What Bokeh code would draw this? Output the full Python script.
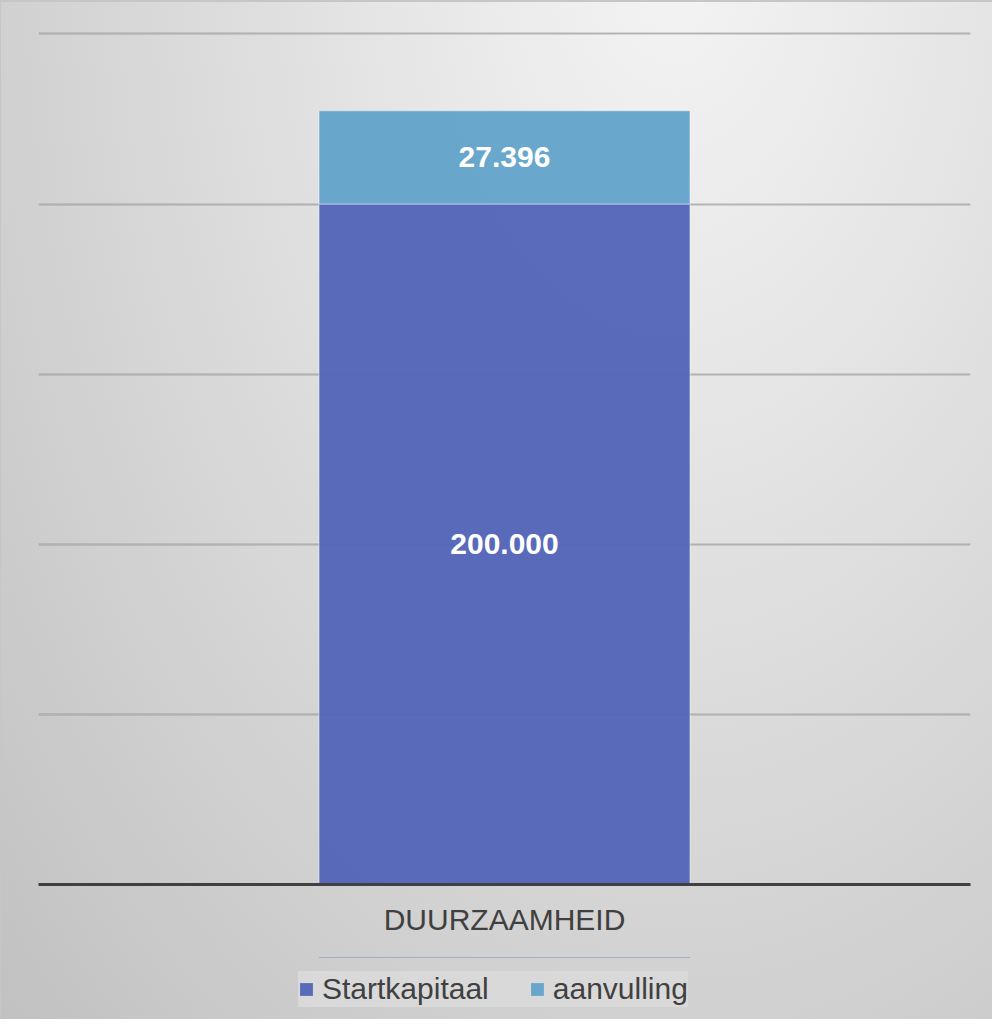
from bokeh.plotting import figure
from bokeh.layouts import column
from bokeh.models import (FactorRange, Range1d, Legend, LegendItem, ColumnDataSource,
                          Grid, FixedTicker)
from bokeh.core.properties import value
from bokeh.embed import file_html
from bokeh.resources import INLINE

# ---- data ----
categories = ["DUURZAAMHEID"]
series = ["Startkapitaal", "aanvulling"]
startkapitaal = [200000]
aanvulling = [27396]
y_ticks = [0, 50000, 100000, 150000, 200000, 250000]
colors = ["#5365B9", "#64A3CA"]
FONT = "Liberation Sans"


def nl(v):
    return f"{v:,}".replace(",", ".")


src = ColumnDataSource(dict(cat=categories, Startkapitaal=startkapitaal, aanvulling=aanvulling))

p = figure(x_range=FactorRange(*categories), y_range=Range1d(0, 251000),
           width=992, height=950, output_backend="svg", toolbar_location=None,
           y_axis_location=None,
           min_border_left=38, min_border_right=22, min_border_top=30, min_border_bottom=66)
p.x_range.range_padding = 0
p.background_fill_color = None
p.border_fill_color = None
p.outline_line_color = None
p.xgrid.grid_line_color = None

p.add_layout(Grid(dimension=1, ticker=FixedTicker(ticks=y_ticks),
                  grid_line_color="black", grid_line_alpha=0.22, grid_line_width=2))

rs = p.vbar_stack(series, x="cat", width=0.398, source=src, color=colors,
                  fill_alpha=0.96, line_color="white", line_alpha=0.45, line_width=1)

# value labels at segment centres
lab_y, lab_t, lab_x = [], [], []
for c, s, a in zip(categories, startkapitaal, aanvulling):
    lab_x += [c, c]
    lab_y += [s / 2, s + a / 2]
    lab_t += [nl(s), nl(a)]
p.text(x=lab_x, y=lab_y, text=lab_t, text_color="white", text_font=value(FONT),
       text_font_style="bold", text_font_size="30px", text_align="center", text_baseline="middle")

ax = p.xaxis[0]
ax.axis_line_color = "#404040"
ax.axis_line_width = 3
ax.major_tick_line_color = None
ax.minor_tick_line_color = None
ax.major_tick_out = 0
ax.major_tick_in = 0
ax.major_label_text_font = FONT
ax.major_label_text_font_size = "30px"
ax.major_label_text_color = "#404040"
ax.major_label_standoff = 18

# ---- legend strip (separate figure below the chart; its bars fall outside its view) ----
lg = figure(x_range=FactorRange(*categories), y_range=Range1d(-2, -1),
            width=992, height=69, output_backend="svg", toolbar_location=None,
            x_axis_location=None, y_axis_location=None,
            min_border_left=38, min_border_right=22, min_border_top=7, min_border_bottom=12)
lg.grid.grid_line_color = None
lg.outline_line_color = None
lg.border_fill_color = None
lg.background_fill_color = None
lg_rs = lg.vbar_stack(series, x="cat", width=0.398, source=src, color=colors,
                      fill_alpha=0.96, line_alpha=0)

legend = Legend(items=[LegendItem(label=s, renderers=[r]) for s, r in zip(series, lg_rs)],
                orientation="horizontal", location=(260, 0),
                label_text_font=FONT, label_text_font_size="30px",
                label_text_color="#404040", glyph_width=16, glyph_height=16,
                label_height=36, label_standoff=8, spacing=40, padding=14, margin=0,
                background_fill_color="#dadada", background_fill_alpha=0.85,
                border_line_color=None)
lg.add_layout(legend)

layout = column(p, lg, spacing=0)
layout.styles = {
    "background-image": "radial-gradient(farthest-corner at 68% -5%, #f4f4f4 0%, #e6e6e6 30%, #c1c1c1 100%)",
    "box-shadow": "inset 1px 2px 0 #c6c6c6",
}

open("out.html", "w").write(file_html(layout, INLINE))
